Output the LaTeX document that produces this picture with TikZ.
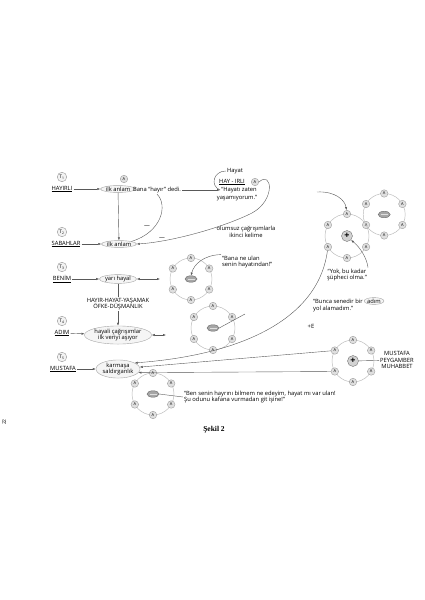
\documentclass[tikz,border=0pt]{standalone}
\usepackage{fontspec}
\setmainfont{Open Sans}
\newfontfamily\capfont{Liberation Serif}
\usetikzlibrary{arrows.meta,shapes.geometric}

\begin{document}
\begin{tikzpicture}[x=1pt,y=-1pt,font=\fontsize{5.8}{6.6}\selectfont]
\tikzstyle{every node}=[inner sep=1pt]
\tikzstyle{tcirc}=[circle,draw=gray!80,fill=gray!10,minimum size=9.5pt,inner sep=0pt,font=\fontsize{4.8}{4.8}\selectfont]
\tikzstyle{oval}=[ellipse,draw=gray!70,fill=gray!8,inner sep=0.2pt]
\tikzstyle{anode}=[circle,draw=gray!75,fill=gray!25,minimum size=7.5pt,inner sep=0pt,font=\fontsize{4}{4}\selectfont]
\tikzstyle{ring}=[draw=gray!55,line width=0.45pt]
\tikzstyle{link}=[draw=black!65,line width=0.4pt]
\tikzstyle{arr}=[link,-{Latex[length=3pt,width=2.2pt]}]
\tikzstyle{darr}=[link,{Latex[length=3pt,width=2.2pt]}-{Latex[length=3pt,width=2.2pt]}]
\tikzstyle{minusc}=[ellipse,draw=black!60,fill=gray!70,minimum width=12pt,minimum height=6.5pt,inner sep=0pt,
  path picture={\draw[gray!25,line width=0.6pt] ([xshift=2.5pt]path picture bounding box.west) -- ([xshift=-2.5pt]path picture bounding box.east);}]
\tikzstyle{plusc}=[circle,draw=black!55,fill=gray!35,minimum size=11pt,inner sep=0pt,font=\fontsize{9}{9}\selectfont\bfseries]

\fill[white] (0,0) rectangle (424,600);
\useasboundingbox (0,0) rectangle (424,600);

\node[tcirc] (t1) at (62,177) {T\textsubscript{1}};
\node[tcirc] (t2) at (62,232) {T\textsubscript{2}};
\node[tcirc] (t3) at (62,267) {T\textsubscript{3}};
\node[tcirc] (t4) at (62,321) {T\textsubscript{4}};
\node[tcirc] (t5) at (62,357) {T\textsubscript{5}};

\node (hayirli) at (62,189) {\underline{HAYIRLI}};
\node (sabahlar) at (66,244) {\underline{SABAHLAR}};
\node (benim) at (62,279) {\underline{BENİM}};
\node (adim) at (62,333) {\underline{ADIM}};
\node (mustafa) at (63,369) {\underline{MUSTAFA}};

\node[oval] (ilk1) at (118,189) {ilk anlam};
\node[anode] (ailk) at (124,179) {A};
\node (bana) at (157,190) {Bana “hayır” dedi.};
\node (hayat) at (235,171) {Hayat};
\node (hayirli2) at (232,182) {\underline{HAY - IRLI}};
\node[anode] (ahay) at (255,182) {A};
\node (hayati) at (239,190) {“Hayatı zaten};
\node (yasam) at (237,198) {yaşamıyorum.”};
\node[align=center] (olumsuz) at (246,232) {olumsuz çağrışımlarla\\ikinci kelime};
\node (neg1) at (147,227) {—};
\node (neg2) at (162,239) {—};

\node[oval] (ilk2) at (119,244) {ilk anlam};
\node[oval] (yari) at (118,279) {yarı hayal};
\node[oval,align=center] (hayali) at (118,335) {hayali çağrışımlar\\ilk veriyi aşıyor};
\node[oval,align=center] (karmasa) at (118,369) {karmaşa\\saldırganlık};
\coordinate (c1) at (160,279);
\coordinate (c2) at (166,335);
\coordinate (c3) at (317,192);
\coordinate (c4) at (245,314);

\foreach \n/\cx/\cy/\r in {r1/191/279/21, r2/213/328/22, r3/153/394/21, r4/347/236/22, r6/353/361/21}{
  \draw[ring] (\cx,\cy) circle (\r);
  \foreach \a [count=\i] in {-90,-30,30,90,150,210}
    \node[anode] (\n-\i) at ([shift={(\a:\r)}]\cx,\cy) {A};
}
\draw[ring] (384.2,214.5) circle (21);
\foreach \a [count=\i] in {-90,-30,30,90,210}
  \node[anode] (r5-\i) at ([shift={(\a:21)}]384.2,214.5) {A};

\node[minusc] (m1) at (191,279) {};
\node[minusc] (m2) at (213,328) {};
\node[minusc] (m3) at (153,394) {};
\node[minusc] (m5) at (384.2,214.5) {};
\node[plusc] (p1) at (347,236) {+};
\node[plusc] (p6) at (353,361) {+};

\node[align=left,anchor=west] (bana2) at (221,262) {“Bana ne ulan\\senin hayatından!”};
\node[align=center] (yok) at (347,275) {“Yok, bu kadar\\şüpheci olma.”};
\node[anchor=west] (bunca) at (312,301) {“Bunca senedir bir};
\node[oval,anchor=west] (adimo) at (bunca.east) {adım};
\node[anchor=west] (yol) at (312,309) {yol alamadım.”};
\node (pe) at (311,326) {+E};
\node[align=center] (mpm) at (397,360) {MUSTAFA\\PEYGAMBER\\MUHABBET};
\node[align=left,anchor=west] (ben) at (183,397) {“Ben senin hayrını bilmem ne edeyim, hayat mı var ulan!\\Şu odunu kafana vurmadan git işine!”};
\node[font=\capfont\bfseries\fontsize{7.5}{8}\selectfont] (sekil) at (214,430) {Şekil 2};
\node[rotate=90,font=\fontsize{5}{5}\selectfont] (pno) at (4,422) {22};

\foreach \from/\to in {hayirli/ilk1, bana/hayati, ilk1/ilk2, sabahlar/ilk2, benim/yari, yari/hayali, adim/hayali, mustafa/karmasa}
\draw[arr] (\from) -- (\to);

\foreach \from/\to in {yari/c1, hayali/c2}
\draw[darr] (\from) -- (\to);

\draw[link] (hayat.west) .. controls (213,171) and (210,186) .. (hayati.west);
\draw[arr] (ahay.east) .. controls (272,170) and (276,200) .. (252,213) .. controls (222,228) and (170,242) .. (ilk2.east);
\draw[link] (bana.south) .. controls (168,205) and (162,232) .. (ilk2.north east);
\draw[arr] (bana2.north west) .. controls (204,255) and (194,264) .. (m1.north);
\draw[link] (m2.east) -- (c4);
\draw[arr] (c3) .. controls (335,191) and (345,200) .. (r4-1);
\draw[arr] (yok.north east) .. controls (367,259) and (361,248) .. (p1.south east);
\draw[arr] (r4-5) .. controls (318,320) and (240,355) .. (karmasa.20);
\draw[arr] (r6-6) -- (karmasa.5);
\draw[arr] (r6-5) -- (karmasa.-10);
\draw[link] (p6) -- (mpm);
\draw[link] (m3.east) -- (ben.west);

\node[align=center,fill=white,inner sep=0.5pt] (hayir) at (118,304) {HAYIR-HAYAT-YAŞAMAK\\ÖFKE-DÜŞMANLIK};

\end{tikzpicture}
\end{document}
